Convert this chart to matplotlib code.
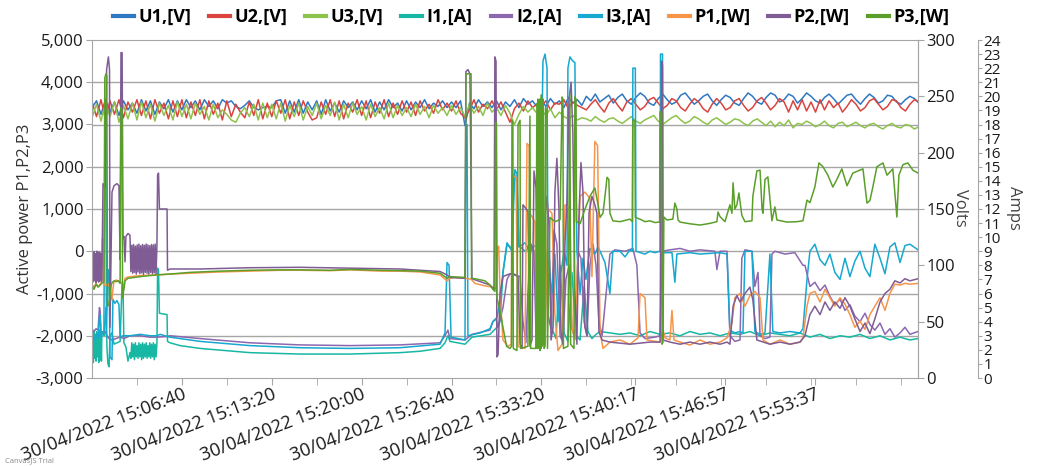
import matplotlib.pyplot as plt
import numpy as np
from matplotlib.lines import Line2D
from matplotlib.ticker import FuncFormatter

plt.rcParams['font.family'] = ['Open Sans', 'DejaVu Sans']

# x axis: seconds after 30/04/2022 15:00:00
x_end = 3676
tick_sec = [400, 800, 1200, 1600, 2000, 2417, 2817, 3217]
tick_labels = ['30/04/2022 15:06:40', '30/04/2022 15:13:20', '30/04/2022 15:20:00',
               '30/04/2022 15:26:40', '30/04/2022 15:33:20', '30/04/2022 15:40:17',
               '30/04/2022 15:46:57', '30/04/2022 15:53:37']

# voltages, one reading every 20 s
u_step = 20
u1 = [240, 246, 234, 247, 236, 245, 233, 246, 238, 244,
      235, 247, 237, 246, 234, 245, 239, 247, 236, 246,
      238, 247, 240, 246, 238, 247, 241, 246, 239, 247,
      244, 246, 241, 239, 242, 246, 240, 238, 240, 241,
      240, 246, 247, 235, 246, 236, 247, 235, 245, 238,
      246, 234, 247, 237, 244, 236, 246, 240, 245, 238,
      246, 239, 247, 236, 245, 238, 247, 240, 244, 237,
      246, 238, 245, 240, 247, 239, 244, 241, 246, 240,
      245, 240, 246, 224, 244, 239, 247, 241, 245, 240,
      246, 238, 245, 241, 247, 240, 248, 243, 246, 241,
      247, 241, 248, 243, 246, 240, 249, 244, 247, 242,
      250, 246, 252, 245, 248, 251, 244, 249, 252, 246,
      243, 249, 253, 250, 244, 242, 248, 252, 247, 243,
      245, 251, 253, 248, 243, 246, 250, 252, 246, 242,
      247, 251, 249, 244, 242, 248, 253, 250, 245, 243,
      249, 253, 251, 245, 247, 252, 250, 244, 248, 253,
      250, 246, 244, 249, 252, 248, 243, 247, 251, 252,
      247, 243, 248, 252, 249, 244, 246, 251, 250, 245,
      243, 247, 250, 248, 244]
u2 = [245, 232, 247, 230, 246, 234, 247, 231, 245, 236,
      247, 233, 246, 230, 247, 235, 244, 230, 246, 232,
      247, 231, 245, 233, 247, 230, 246, 234, 244, 229,
      246, 232, 243, 236, 231, 245, 233, 247, 230, 244,
      232, 246, 235, 247, 230, 245, 233, 246, 236, 229,
      231, 245, 234, 247, 232, 246, 230, 244, 236, 247,
      233, 246, 231, 245, 235, 247, 232, 244, 234, 246,
      236, 245, 233, 246, 237, 243, 235, 247, 238, 244,
      237, 246, 235, 231, 238, 247, 236, 243, 239, 246,
      238, 245, 236, 227, 239, 244, 237, 246, 240, 243,
      241, 246, 238, 244, 243, 247, 239, 245, 242, 240,
      238, 243, 247, 241, 236, 244, 248, 242, 237, 245,
      248, 243, 238, 241, 247, 249, 244, 239, 242, 248,
      246, 240, 237, 243, 248, 245, 239, 236, 243, 248,
      244, 238, 240, 246, 248, 242, 237, 240, 246, 249,
      244, 238, 242, 248, 245, 236, 246, 238, 247, 237,
      245, 236, 247, 238, 246, 240, 244, 236, 241, 247,
      243, 237, 240, 246, 248, 243, 238, 241, 247, 246,
      240, 237, 243, 247, 245]
u3 = [231, 243, 228, 244, 232, 245, 227, 242, 230, 244,
      229, 245, 231, 243, 228, 244, 233, 242, 229, 245,
      232, 243, 230, 244, 234, 241, 229, 243, 231, 238,
      234, 229, 227, 235, 240, 232, 243, 229, 244, 231,
      243, 230, 244, 228, 242, 232, 244, 229, 241, 233,
      244, 230, 242, 233, 245, 229, 243, 231, 244, 234,
      241, 229, 243, 232, 240, 230, 244, 231, 242, 233,
      240, 232, 243, 234, 241, 231, 242, 235, 240, 233,
      242, 234, 240, 232, 243, 235, 241, 233, 244, 236,
      240, 233, 242, 235, 225, 234, 241, 236, 240, 235,
      238, 233, 239, 231, 236, 232, 230, 233, 229, 231,
      230, 228, 232, 229, 227, 230, 231, 228, 226, 229,
      232, 228, 226, 229, 231, 233, 228, 225, 228, 231,
      233, 229, 226, 228, 232, 230, 227, 225, 229, 231,
      228, 225, 227, 230, 229, 226, 224, 228, 230, 227,
      224, 228, 223, 227, 224, 229, 222, 226, 225, 228,
      226, 223, 225, 228, 224, 222, 226, 227, 223, 225,
      227, 224, 222, 225, 226, 223, 221, 224, 226, 223,
      222, 225, 224, 221, 223]

# currents (A) as (seconds, amps)
i1 = [(0, 1.3), (3, 3.2), (6, 1.1), (9, 3.4), (12, 1.4), (15, 3.1), (18, 1.2), (21, 3.3),
      (24, 1.5), (27, 3.2), (30, 1.1), (33, 3.4), (36, 1.3), (39, 3.0), (42, 1.2), (44, 3.3),
      (49, 3.2), (53, 3.0), (62, 5.0), (67, 2.0), (71, 1.0), (76, 0.8), (80, 3.0), (89, 3.2),
      (98, 2.4), (111, 2.5), (125, 2.6), (134, 6.8), (138, 6.6), (142, 2.5), (151, 2.2),
      (160, 1.2), (169, 1.8),
      (173, 1.4), (177, 2.5), (181, 1.5), (185, 2.4), (189, 1.3), (193, 2.5), (197, 1.5),
      (201, 2.3), (205, 1.4), (209, 2.5), (213, 1.5), (217, 2.4), (221, 1.3), (225, 2.5),
      (229, 1.4), (233, 2.4), (237, 1.5), (241, 2.5), (245, 1.4), (249, 2.3), (253, 1.5),
      (257, 2.5), (261, 1.4), (265, 2.4), (269, 1.5), (273, 2.5), (277, 1.3), (281, 2.4),
      (285, 1.5), (289, 2.5),
      (292, 7.8), (296, 7.6), (300, 4.6), (334, 4.5), (336, 2.6), (347, 2.5), (392, 2.3),
      (481, 2.1), (703, 1.8), (926, 1.7), (1148, 1.7), (1371, 1.8), (1460, 1.9), (1549, 2.1),
      (1571, 2.5), (1584, 3.0), (1593, 2.6), (1660, 2.4), (1691, 2.9), (1771, 3.1), (1802, 3.6),
      (1816, 4.0), (1829, 7.5), (1847, 9.5), (1869, 9.2), (1878, 14.5), (1891, 14.0), (1900, 9.4),
      (1927, 9.0), (1949, 9.3), (1971, 9.0), (1985, 3.0), (1998, 2.5), (2016, 8.5), (2034, 9.0),
      (2047, 3.5), (2065, 2.8), (2083, 8.0), (2101, 3.2), (2118, 2.6), (2136, 7.5), (2154, 3.0),
      (2172, 2.7), (2190, 6.5), (2207, 3.3), (2225, 2.8), (2243, 3.1), (2261, 3.3), (2305, 3.2),
      (2350, 3.1), (2394, 3.2), (2439, 3.0), (2483, 3.3), (2528, 3.1), (2572, 3.2), (2617, 3.0),
      (2661, 3.3), (2706, 3.1), (2750, 3.2), (2795, 3.0), (2839, 3.2), (2884, 3.1), (2928, 3.3),
      (2973, 3.0), (3017, 3.2), (3062, 3.1), (3106, 3.0), (3151, 3.2), (3195, 2.9), (3240, 3.1),
      (3284, 2.8), (3329, 3.0), (3373, 2.9), (3418, 3.1), (3462, 2.8), (3507, 3.0), (3551, 2.7),
      (3596, 2.9), (3640, 2.7), (3676, 2.8)]

i2 = [(0, 3.4), (9, 3.3), (18, 3.5), (27, 3.4), (33, 5.0), (36, 4.8), (40, 3.3), (49, 3.2),
      (58, 3.3), (67, 3.0), (76, 2.8), (89, 2.7), (107, 2.8), (125, 2.9), (142, 2.8), (169, 3.0),
      (214, 3.0), (258, 2.9), (289, 2.9), (334, 2.95), (347, 3.0), (481, 2.8), (703, 2.5),
      (926, 2.35), (1148, 2.3), (1371, 2.35), (1549, 2.5), (1571, 3.0), (1584, 3.4), (1593, 2.8),
      (1660, 2.7), (1691, 3.1), (1771, 3.4), (1784, 4.0), (1798, 4.2), (1807, 3.6), (1829, 5.0),
      (1847, 7.0), (1860, 7.4), (1905, 7.2), (1918, 4.0), (1931, 2.5), (1940, 6.0), (1954, 9.5),
      (1967, 9.0), (1976, 3.0), (1989, 2.2), (2003, 8.0), (2016, 9.0), (2029, 4.5), (2043, 3.5),
      (2056, 10.5), (2069, 9.5), (2083, 3.0), (2096, 2.5), (2109, 7.0), (2123, 8.0), (2136, 3.5),
      (2149, 2.8), (2163, 9.0), (2176, 8.5), (2190, 4.0), (2203, 3.0), (2216, 8.0), (2230, 9.5),
      (2243, 8.0), (2256, 4.0), (2270, 3.0), (2288, 6.0), (2305, 8.8), (2327, 9.1), (2372, 9.0),
      (2407, 9.2), (2425, 8.0), (2439, 3.2), (2461, 2.8), (2505, 2.9), (2528, 3.0), (2537, 9.0),
      (2572, 9.1), (2617, 9.2), (2661, 9.0), (2706, 9.1), (2772, 9.0), (2781, 7.7), (2795, 9.0),
      (2826, 9.0), (2839, 3.0), (2861, 2.6), (2884, 2.7), (2892, 8.5), (2906, 9.1), (2937, 9.0),
      (2950, 6.5), (2964, 7.5), (2973, 3.0), (2995, 2.8), (3017, 2.9), (3026, 8.8), (3039, 9.0),
      (3084, 8.8), (3128, 8.9), (3164, 8.0), (3173, 8.0), (3195, 6.5), (3217, 6.8), (3240, 6.2),
      (3262, 6.6), (3284, 5.8), (3306, 5.2), (3329, 5.6), (3351, 4.8), (3373, 5.2), (3395, 4.4),
      (3418, 4.0), (3440, 4.6), (3462, 3.8), (3484, 3.4), (3507, 3.9), (3529, 3.1), (3551, 3.5),
      (3573, 2.9), (3596, 3.2), (3618, 3.6), (3640, 3.1), (3676, 3.3)]

i3 = [(0, 3.0), (9, 2.7), (18, 3.1), (27, 2.8), (33, 4.3), (36, 4.5), (40, 2.9), (45, 3.2),
      (53, 3.3), (58, 19.8), (62, 19.5), (64, 3.0), (71, 7.7), (76, 7.5), (80, 1.5), (89, 1.3),
      (93, 5.6), (102, 5.3), (111, 5.5), (120, 5.2), (125, 2.9), (138, 3.0), (169, 3.0),
      (214, 3.1), (258, 3.0), (289, 3.0), (303, 3.1), (347, 2.9), (392, 2.8), (481, 2.6),
      (703, 2.3), (926, 2.15), (1148, 2.1), (1371, 2.15), (1549, 2.4), (1571, 3.2), (1580, 8.2),
      (1589, 8.0), (1598, 2.9), (1660, 2.7), (1664, 18.0), (1669, 18.0), (1673, 3.0), (1727, 3.2),
      (1771, 3.5), (1784, 4.0), (1802, 4.3), (1816, 5.5), (1829, 7.5), (1847, 9.6), (1869, 9.0),
      (1882, 14.8), (1891, 14.5), (1900, 9.3), (1927, 9.6), (1949, 9.0), (1971, 9.4), (1994, 9.2),
      (2007, 22.5), (2016, 23.0), (2025, 22.0), (2029, 8.5), (2047, 6.0), (2060, 8.8), (2074, 4.0),
      (2087, 7.5), (2101, 9.0), (2114, 8.0), (2118, 22.0), (2127, 22.8), (2140, 22.5), (2149, 22.4),
      (2158, 9.0), (2172, 6.0), (2185, 8.5), (2198, 7.0), (2216, 9.2), (2238, 8.8), (2252, 9.3),
      (2261, 9.0), (2283, 8.2), (2305, 6.0), (2318, 9.0), (2350, 9.0), (2372, 8.6), (2394, 9.1),
      (2405, 9.0), (2407, 22.0), (2418, 22.0), (2421, 9.0), (2461, 8.8), (2483, 9.0), (2505, 8.9),
      (2528, 9.0), (2530, 23.0), (2539, 23.0), (2541, 8.9), (2581, 8.9), (2594, 6.8), (2603, 8.8),
      (2661, 8.9), (2706, 8.8), (2795, 8.9), (2826, 8.8), (2839, 3.4), (2861, 3.2), (2884, 3.3),
      (2897, 3.2), (2906, 9.0), (2937, 9.0), (2950, 3.3), (2973, 3.1), (2995, 3.2), (3017, 8.8),
      (3030, 3.3), (3062, 3.2), (3106, 3.3), (3151, 3.2), (3164, 3.5), (3182, 7.0), (3195, 9.0),
      (3217, 9.5), (3240, 8.4), (3262, 8.0), (3284, 8.8), (3306, 7.5), (3329, 7.0), (3351, 8.5),
      (3373, 7.2), (3395, 8.3), (3418, 9.0), (3440, 7.8), (3462, 7.2), (3484, 9.5), (3507, 8.5),
      (3529, 7.4), (3551, 9.3), (3573, 9.6), (3596, 8.2), (3618, 9.4), (3640, 9.5), (3676, 9.1)]

# active power (W) as (seconds, watts)
p1 = [(0, -780), (9, -850), (18, -760), (27, -830), (36, -790), (44, -700), (46, 300), (51, 280),
      (53, -780), (62, -820), (71, -760), (80, -880), (89, -1150), (93, -900), (98, -720),
      (107, -680), (116, -700), (125, -720), (134, -760), (138, -950), (142, -820), (147, -640),
      (160, -610), (187, -590), (231, -570), (289, -560), (347, -540), (436, -520), (570, -490),
      (703, -470), (837, -450), (926, -450), (1059, -460), (1148, -440), (1282, -470), (1371, -470),
      (1460, -490), (1549, -560), (1580, -700), (1593, -640), (1615, -620), (1660, -640),
      (1687, -660), (1704, -760), (1749, -820), (1784, -850), (1798, -900), (1805, 100), (1810, 120),
      (1816, -1000), (1829, -2100), (1851, -2250), (1866, -2200), (1869, 1800), (1887, 1750),
      (1896, -2250), (1927, -2300), (1936, 2550), (1945, 2500), (1949, 900), (1971, 700),
      (1980, -2300), (2016, -2200), (2029, 1000), (2047, 900), (2060, -1500), (2074, -2350),
      (2092, -2200), (2105, 1100), (2127, 1000), (2136, -1800), (2149, -2100), (2172, 1300),
      (2194, 1400), (2216, 1250), (2225, -600), (2238, 2600), (2250, 2500), (2261, -1900),
      (2274, -2300), (2305, -2150), (2350, -2100), (2394, -2200), (2430, -2050), (2439, -1000),
      (2461, -1100), (2470, -2100), (2528, -2150), (2541, -1860), (2550, -2050), (2572, -2100),
      (2581, -1400), (2590, -2100), (2617, -2150), (2661, -2220), (2706, -2100), (2750, -2200),
      (2795, -2150), (2826, -2050), (2848, -1700), (2861, -1100), (2884, -1000), (2906, -1300),
      (2928, -1050), (2950, -950), (2973, -1100), (2986, -2100), (3017, -2200), (3062, -2100),
      (3106, -2200), (3151, -2150), (3164, -2050), (3182, -1300), (3195, -1000), (3217, -950),
      (3240, -1200), (3262, -900), (3284, -1100), (3306, -1300), (3329, -1100), (3351, -1250),
      (3373, -1500), (3395, -1800), (3418, -1650), (3440, -1850), (3462, -1500), (3484, -1300),
      (3507, -1100), (3529, -1400), (3551, -1000), (3573, -780), (3596, -800), (3618, -760),
      (3640, -780), (3676, -760)]

p2 = [(0, -700), (3, -40), (6, -720), (9, -10), (12, -690), (15, -60), (18, -740), (21, 0),
      (24, -700), (27, -30), (30, -730), (33, -20), (36, -680), (39, -50), (42, -720), (44, -650),
      (49, 1600), (58, 1500), (65, 4300), (73, 4600), (78, 4300), (80, -1800), (89, 1400),
      (98, 1550), (111, 1600), (120, 1550), (125, -200), (129, 4700), (134, 4700), (138, 300),
      (142, 350), (147, -250), (151, 350), (160, 420), (169, 380),
      (173, -480), (177, 140), (181, -520), (185, 160), (189, -500), (193, 120), (197, -540),
      (201, 150), (205, -490), (209, 170), (213, -530), (217, 130), (221, -510), (225, 160),
      (229, -550), (233, 140), (237, -500), (241, 170), (245, -520), (249, 150), (253, -540),
      (257, 130), (261, -500), (265, 160), (269, -530), (273, 150), (277, -510), (281, 170),
      (285, -540), (289, 150),
      (292, 1800), (296, 1850), (300, 1000), (334, 1000), (336, -450), (347, -420), (481, -420),
      (703, -390), (926, -380), (1148, -400), (1371, -420), (1549, -480), (1580, -560),
      (1593, -620), (1660, -640), (1664, 4250), (1673, 4300), (1682, 4200), (1687, 1500),
      (1691, -650), (1771, -800), (1789, -900), (1793, 4600), (1798, 4500), (1802, -2500),
      (1807, -2450), (1816, -1000), (1829, -600), (1851, -550), (1873, -520), (1896, -600),
      (1905, -2200), (1914, -2300), (1918, 1100), (1940, 950), (1949, -2250), (1958, -2100),
      (1967, 1900), (1976, 1500), (1985, -1500), (1994, -2000), (2007, -1200), (2016, 800),
      (2025, 1300), (2034, 600), (2043, -2100), (2052, -1800), (2060, 1400), (2069, 2200),
      (2078, 1000), (2087, -1900), (2096, -2200), (2105, 200), (2114, 1200), (2123, 3600),
      (2132, 4000), (2140, 2800), (2149, -1000), (2158, -2200), (2167, 800), (2176, 2100),
      (2185, 1400), (2194, -1800), (2203, -2000), (2212, 900), (2225, 1300), (2238, 1100),
      (2247, 900), (2256, -1900), (2270, -2100), (2305, -2150), (2394, -2200), (2483, -2150),
      (2528, -2150), (2535, 4500), (2539, 4400), (2541, -2100), (2572, -2150), (2617, -2200),
      (2661, -2150), (2706, -2200), (2750, -2150), (2795, -2200), (2826, -2150), (2839, -2200),
      (2853, -1300), (2870, -1050), (2884, -1200), (2906, -1000), (2928, -850), (2941, -1150),
      (2959, -2100), (3017, -2200), (3062, -2150), (3106, -2200), (3151, -2150), (3173, -2000),
      (3195, -1500), (3217, -1300), (3240, -1500), (3262, -1200), (3284, -1400), (3306, -1200),
      (3329, -1350), (3351, -1100), (3373, -1300), (3395, -1600), (3418, -1900), (3440, -1700),
      (3462, -1950), (3484, -1600), (3507, -1200), (3529, -1000), (3551, -900), (3573, -700),
      (3596, -750), (3618, -650), (3640, -700), (3676, -650)]

p3 = [(0, -820), (9, -900), (18, -780), (27, -850), (36, -800), (44, -760), (53, -720),
      (57, 4100), (62, 4200), (66, 4150), (69, -1300), (76, -1250), (85, -800), (89, -750),
      (98, -700), (107, -720), (116, -700), (125, -760), (129, 3400), (134, 3300), (136, -1100),
      (142, -900), (147, -700), (160, -640), (187, -620), (231, -590), (289, -560), (347, -540),
      (436, -500), (570, -470), (703, -450), (837, -440), (926, -440), (1059, -450), (1148, -430),
      (1282, -450), (1371, -460), (1460, -470), (1549, -520), (1580, -640), (1593, -600),
      (1660, -620), (1664, 4200), (1687, 4200), (1689, -640), (1704, -650), (1749, -700),
      (1771, -800), (1784, -900), (1793, -950), (1796, 3050), (1800, 3050), (1802, -1100),
      (1816, -1400), (1829, -1800), (1845, -2250), (1860, -2300), (1867, -2250), (1869, 3100),
      (1873, 3050), (1875, -2300), (1891, -2350), (1896, 3000), (1905, 3100), (1907, -2300),
      (1940, -2250), (1949, 3200), (1952, -2300), (1975, -2300), (1980, 3500), (1982, -2300),
      (1984, 3600), (1986, -2250), (1988, 3400), (1990, -2300), (1992, 3600), (1994, -2350),
      (1996, 3500), (1998, -2300), (2000, 3700), (2002, -2250), (2004, 3500), (2006, -2200),
      (2008, 3600), (2012, -2300), (2016, -2250), (2018, 3400), (2025, 3300), (2027, -2300),
      (2038, 800), (2060, 700), (2083, 750), (2092, 3650), (2096, 3600), (2098, -2300),
      (2118, -2250), (2127, 3700), (2130, -2200), (2145, -2300), (2149, 3650), (2154, 3600),
      (2156, 700), (2172, 650), (2194, 1000), (2216, 1300), (2238, 1500), (2252, 1100),
      (2261, 800), (2274, 900), (2283, 1300), (2292, 1750), (2300, 1700), (2305, 900),
      (2318, 720), (2350, 700), (2394, 760), (2405, 700), (2407, 3100), (2416, 3100),
      (2418, 800), (2439, 760), (2461, 700), (2483, 720), (2505, 680), (2526, 690),
      (2528, 3300), (2535, 3300), (2537, -2200), (2541, -2150), (2545, 810), (2559, 740),
      (2585, 760), (2594, 1140), (2603, 1000), (2608, 740), (2617, 690), (2661, 650),
      (2706, 620), (2750, 660), (2781, 700), (2786, 930), (2795, 820), (2817, 700), (2839, 1100),
      (2848, 900), (2853, 1620), (2861, 1000), (2870, 1100), (2879, 1380), (2892, 850),
      (2906, 700), (2937, 720), (2941, 1300), (2959, 1900), (2973, 1920), (2982, 1000),
      (2986, 900), (2995, 1700), (3008, 1760), (3026, 720), (3039, 1050), (3048, 740),
      (3093, 690), (3137, 700), (3164, 720), (3182, 1210), (3195, 1150), (3217, 1520),
      (3235, 2090), (3253, 2000), (3275, 1800), (3297, 1520), (3315, 1700), (3337, 1950),
      (3360, 1550), (3386, 1850), (3418, 1920), (3431, 1950), (3449, 1140), (3462, 1200),
      (3475, 1520), (3493, 2000), (3520, 2090), (3538, 1800), (3564, 1950), (3582, 810),
      (3591, 1800), (3609, 2050), (3631, 2090), (3653, 1920), (3676, 1850)]

names = ['U1,[V]', 'U2,[V]', 'U3,[V]', 'I1,[A]', 'I2,[A]', 'I3,[A]', 'P1,[W]', 'P2,[W]', 'P3,[W]']
colors = ['#2e78c2', '#d9443f', '#8dc24c', '#16b8a4', '#8b68b0', '#17a8cf',
          '#f7954a', '#805c95', '#5b9f2b']
grey = '#a6a6a6'

fig = plt.figure(figsize=(10.38, 4.66), dpi=100)
ax = fig.add_axes([92 / 1038, 1 - 378 / 466, 826 / 1038, 338 / 466])
axv = ax.twinx()
axa = ax.twinx()
axa.spines['right'].set_position(('outward', 43))  # points, ~60 px
ax.set_zorder(axa.get_zorder() + 1)
ax.patch.set_visible(False)

lw = 1.1
# horizontal grid at the power ticks, drawn on the lowest axes so lines sit above it
for w in range(-2000, 5000, 1000):
    axv.axhline((w + 3000) / 8000 * 300, color=grey, lw=1, zorder=0)

t_u = np.arange(len(u1)) * u_step
for vals, c in zip([u1, u2, u3], colors[:3]):
    axv.plot(t_u[:len(vals)], vals, color=c, lw=lw)
for ser, c in zip([i1, i2, i3], colors[3:6]):
    t, v = zip(*ser)
    axa.plot(t, v, color=c, lw=lw)
for ser, c in zip([p1, p2, p3], colors[6:]):
    t, v = zip(*ser)
    ax.plot(t, v, color=c, lw=lw)

ax.set_xlim(0, x_end)
ax.set_ylim(-3000, 5000)
axv.set_ylim(0, 300)
axa.set_ylim(0, 24)

ax.set_yticks(range(-3000, 5001, 1000))
ax.yaxis.set_major_formatter(FuncFormatter(lambda v, p: f'{v:,.0f}'))
axv.set_yticks(range(0, 301, 50))
axa.set_yticks(range(0, 25))

ax.set_xticks(tick_sec)
ax.set_xticklabels(tick_labels, rotation=21, ha='right', va='top', rotation_mode='anchor')
ax.set_xticks(np.arange(200, x_end, 200), minor=True)

for a in (ax, axv, axa):
    for s in a.spines.values():
        s.set_color(grey)
for a in (axv, axa):
    for side in ('left', 'top', 'bottom'):
        a.spines[side].set_visible(False)

ax.tick_params(axis='y', labelsize=12, length=4, color=grey, labelcolor='#1a1a1a', pad=2)
ax.tick_params(axis='x', which='both', labelsize=13.2, length=5, color=grey,
               labelcolor='#1a1a1a', pad=0)
axv.tick_params(axis='y', labelsize=12, length=4, color=grey, labelcolor='#1a1a1a', pad=2)
axa.tick_params(axis='y', labelsize=11, length=3, color=grey, labelcolor='#1a1a1a', pad=1)

fig.text(25 / 1038, 1 - 209 / 466, 'Active power P1,P2,P3', rotation=90,
         ha='center', va='center', fontsize=12, color='#333333')
fig.text(960 / 1038, 1 - 208 / 466, 'Volts', rotation=270,
         ha='center', va='center', fontsize=12, color='#444444')
fig.text(1014 / 1038, 1 - 208 / 466, 'Amps', rotation=270,
         ha='center', va='center', fontsize=12, color='#444444')

handles = [Line2D([], [], color=c, lw=3) for c in colors]
fig.legend(handles, names, loc='center', bbox_to_anchor=(531 / 1038, 1 - 17 / 466),
           ncol=9, frameon=False, handlelength=1.15, handletextpad=0.25,
           columnspacing=1.0, prop={'weight': 'bold', 'size': 13})

fig.text(5 / 1038, 1 - 462 / 466, 'CanvasJS Trial', fontsize=5.5, color='#888888')

fig.savefig('out.png', dpi=100)
